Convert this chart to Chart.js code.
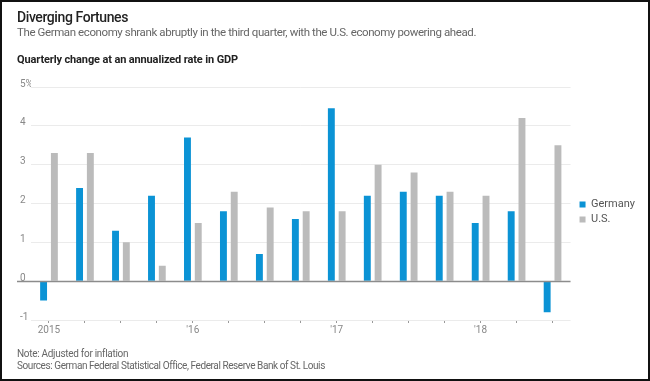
<!DOCTYPE html>
<html>
<head>
<meta charset="utf-8">
<script src="https://cdn.jsdelivr.net/npm/chart.js@4.4.1/dist/chart.umd.min.js"></script>
<style>
  html, body { margin: 0; padding: 0; background: #fff; }
  #wrap { position: relative; width: 650px; height: 381px; overflow: hidden; font-family: Roboto, "Noto Sans", sans-serif; }
  #frame { position: absolute; left: 0; top: 0; width: 650px; height: 381px; box-sizing: border-box; border: 2px solid #111; pointer-events: none; }
  .txt { position: absolute; left: 17px; white-space: nowrap; line-height: 1; }
  #title { top: 10px; font-size: 14px; font-weight: 500; color: #222; }
  #subtitle { top: 27px; font-size: 11.5px; color: #666; }
  #axisTitle { top: 54px; font-size: 11px; font-weight: 700; color: #222; }
  #note { top: 349px; font-size: 10px; color: #666; }
  #sources { top: 361px; font-size: 10px; color: #666; }
  #chartBox { position: absolute; left: 0; top: 0; width: 650px; height: 381px; }
</style>
</head>
<body>
<div id="wrap">
  <div id="chartBox"><canvas id="c"></canvas></div>
  <div class="txt" id="title" data-w="111">Diverging Fortunes</div>
  <div class="txt" id="subtitle" data-w="459">The German economy shrank abruptly in the third quarter, with the U.S. economy powering ahead.</div>
  <div class="txt" id="axisTitle" data-w="221">Quarterly change at an annualized rate in GDP</div>
  <div class="txt" id="note" data-w="111">Note: Adjusted for inflation</div>
  <div class="txt" id="sources" data-w="307">Sources: German Federal Statistical Office, Federal Reserve Bank of St. Louis</div>
  <div id="frame"></div>
</div>
<script>
// ---- data ----
const quarters = ['2015 Q1','2015 Q2','2015 Q3','2015 Q4','2016 Q1','2016 Q2','2016 Q3','2016 Q4',
                  '2017 Q1','2017 Q2','2017 Q3','2017 Q4','2018 Q1','2018 Q2','2018 Q3'];
const xTickLabels = ['2015','','','',"'16",'','','',"'17",'','','',"'18",'',''];
const germany = [-0.5, 2.4, 1.3, 2.2, 3.7, 1.8, 0.7, 1.6, 4.45, 2.2, 2.3, 2.2, 1.5, 1.8, -0.8];
const us      = [3.3, 3.3, 1.0, 0.4, 1.5, 2.3, 1.9, 1.8, 1.8, 3.0, 2.8, 2.3, 2.2, 4.2, 3.5];
const seriesNames = ['Germany', 'U.S.'];
const yMin = -1, yMax = 5, yStep = 1;

// fit the narrow-looking text widths with letter spacing
document.querySelectorAll('.txt[data-w]').forEach(el => {
  const target = parseFloat(el.dataset.w);
  el.style.letterSpacing = '0px';
  const w = el.getBoundingClientRect().width;
  const n = el.textContent.length;
  el.style.letterSpacing = ((target - w) / n).toFixed(3) + 'px';
});

const zeroLine = {
  id: 'zeroLine',
  afterDatasetsDraw(chart) {
    const ctx = chart.ctx, y = Math.round(chart.scales.y.getPixelForValue(0)) + 0.5;
    ctx.save();
    ctx.strokeStyle = '#8c8c8c';
    ctx.lineWidth = 1.6;
    ctx.beginPath();
    ctx.moveTo(17, y);
    ctx.lineTo(chart.chartArea.right, y);
    ctx.stroke();
    ctx.restore();
  }
};
const legendShift = {
  id: 'legendShift',
  afterLayout(chart) {
    if (chart.legend) { chart.legend.left += 5; chart.legend.right += 5; }
  }
};

new Chart(document.getElementById('c'), {
  type: 'bar',
  data: {
    labels: quarters,
    datasets: [
      { label: seriesNames[0], data: germany, backgroundColor: '#0b93d5', borderWidth: 0 },
      { label: seriesNames[1], data: us, backgroundColor: '#bbbbbb', borderWidth: 0 }
    ]
  },
  options: {
    responsive: true,
    maintainAspectRatio: false,
    animation: false,
    categoryPercentage: 0.6,
    barPercentage: 0.64,
    layout: { padding: { left: 20, top: 87, right: 10, bottom: 44 } },
    plugins: {
      tooltip: { enabled: false },
      legend: {
        position: 'right',
        align: 'center',
        labels: {
          boxWidth: 6, boxHeight: 6, padding: 4,
          color: '#555',
          font: { family: 'Roboto', size: 11 }
        }
      }
    },
    scales: {
      x: {
        offset: true,
        grid: { display: true, offset: false, drawOnChartArea: false, drawTicks: true, tickLength: 3, tickColor: '#999', tickWidth: 1 },
        border: { display: false },
        ticks: {
          autoSkip: false, maxRotation: 0, padding: 1,
          color: '#888', font: { family: 'Roboto', size: 10 },
          callback: (v, i) => xTickLabels[i]
        }
      },
      y: {
        min: yMin, max: yMax,
        afterFit: s => { s.width = 11; },
        grid: {
          drawTicks: false,
          color: c => (c.tick && c.tick.value === 0) ? 'rgba(0,0,0,0)' : '#ebebeb',
          lineWidth: 1
        },
        border: { display: false },
        ticks: {
          stepSize: yStep, padding: 0, crossAlign: 'far', labelOffset: -3,
          color: '#888', font: { family: 'Roboto', size: 10 },
          callback: v => v === yMax ? v + '%' : String(v)
        }
      }
    }
  },
  plugins: [zeroLine, legendShift]
});
</script>
</body>
</html>
